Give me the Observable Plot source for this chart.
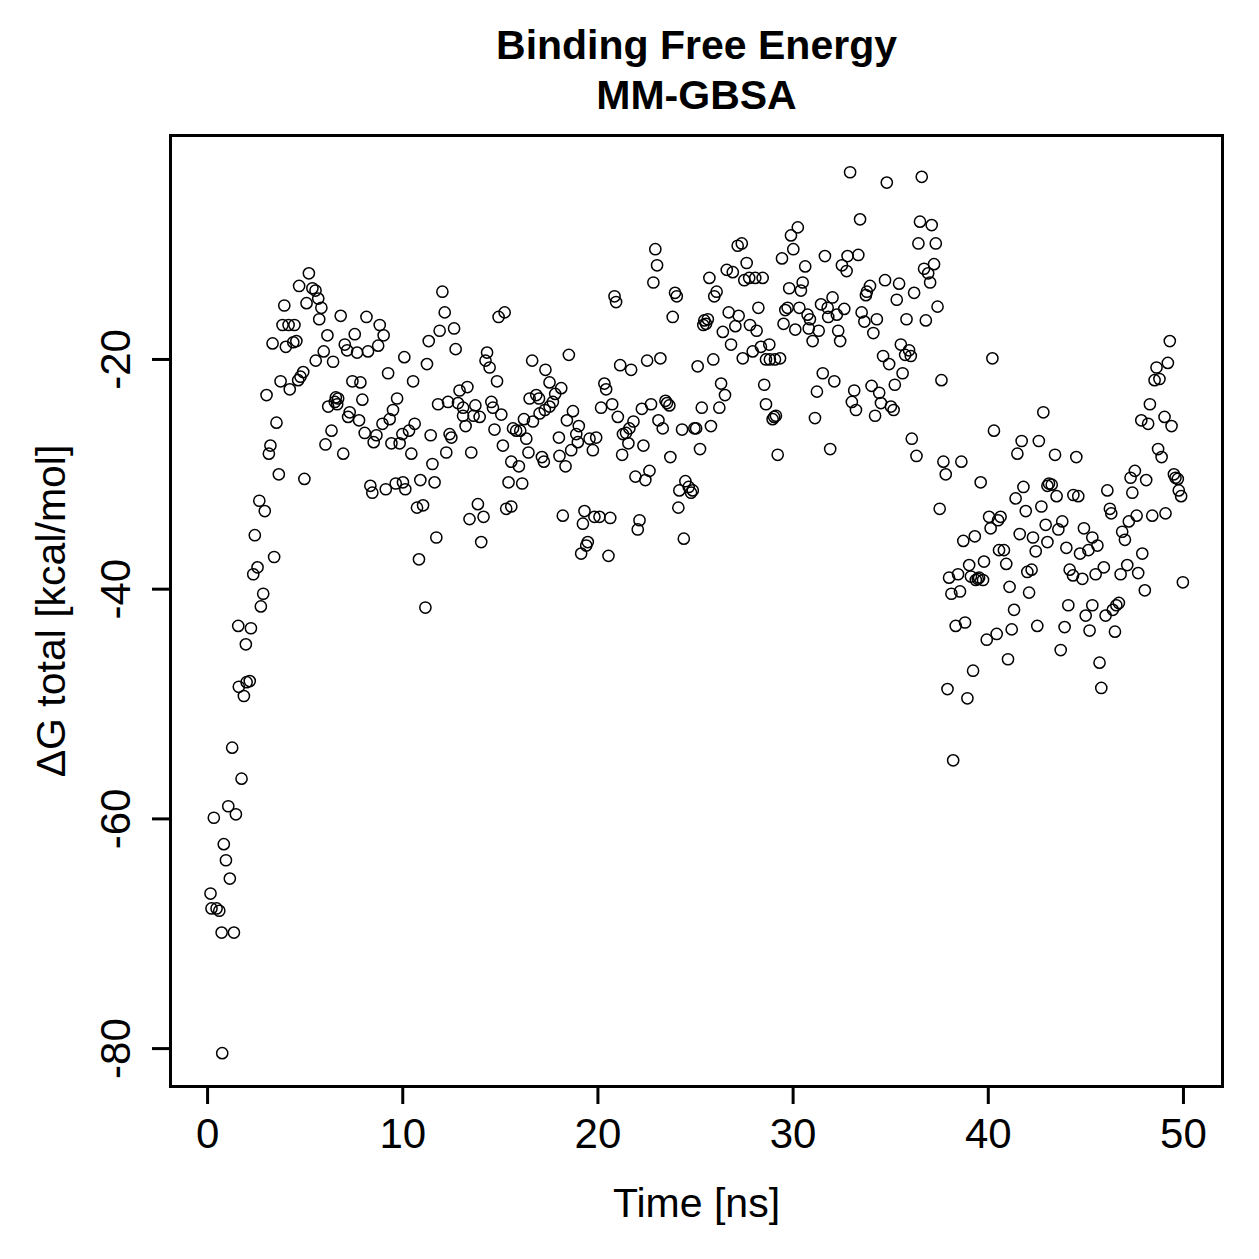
<!DOCTYPE html>
<html><head><meta charset="utf-8">
<script src="https://cdn.jsdelivr.net/npm/d3@7"></script>
<script src="https://cdn.jsdelivr.net/npm/@observablehq/plot@0.6"></script>
<style>body{margin:0;background:#fff;}</style>
</head><body><div id="chart"></div>
<script>
const time = [
0.15,0.20,0.32,0.46,0.60,0.72,0.75,0.83,0.94,1.06,1.14,1.26,1.35,1.45,1.57,1.60,1.74,1.86,1.96,2.00,2.16,2.22,2.34,2.42,2.56,2.65,2.73,2.85,2.93,3.02,3.14,3.22,3.33,3.41,3.53,3.65,3.74,3.84,3.93,4.01,4.15,4.21,4.39,4.45,4.55,4.64,4.69,4.76,4.90,4.96,
5.07,5.19,5.37,5.53,5.54,5.67,5.72,5.83,5.95,6.04,6.14,6.18,6.35,6.43,6.52,6.57,6.64,6.69,6.82,6.95,7.03,7.15,7.20,7.28,7.42,7.54,7.66,7.76,7.83,7.93,8.05,8.14,8.22,8.34,8.44,8.51,8.65,8.74,8.82,8.96,9.02,9.13,9.25,9.33,9.42,9.50,9.64,9.71,9.84,9.98,10.01,10.08,10.13,
10.32,10.44,10.53,10.61,10.73,10.83,10.90,11.04,11.16,11.24,11.33,11.43,11.52,11.63,11.72,11.81,11.89,12.03,12.15,12.23,12.32,12.40,12.49,12.63,12.71,12.83,12.91,13.09,13.09,13.22,13.31,13.42,13.51,13.63,13.72,13.85,13.94,14.02,14.14,14.24,14.32,14.45,14.54,14.62,14.70,14.83,14.91,15.05,15.13,15.22,15.30,15.42,15.56,15.56,15.65,15.81,15.95,16.02,16.12,16.21,16.33,16.44,16.50,16.63,16.67,16.84,16.98,17.01,17.13,17.23,17.28,17.31,17.52,17.52,17.69,17.81,18.00,18.03,18.12,18.20,18.34,18.41,18.51,18.63,18.72,18.89,18.97,19.02,19.14,19.23,19.31,19.40,19.48,19.57,19.74,19.82,19.91,20.08,20.16,
20.33,20.42,20.54,20.63,20.73,20.85,20.93,21.02,21.14,21.24,21.28,21.44,21.56,21.61,21.70,21.82,21.92,22.04,22.13,22.25,22.33,22.43,22.52,22.64,22.72,22.84,22.94,23.03,23.10,23.20,23.32,23.46,23.54,23.66,23.71,23.83,23.95,24.04,24.12,24.17,24.31,24.40,24.48,24.65,24.77,24.86,24.94,25.03,25.11,25.23,25.32,25.40,25.45,25.54,25.63,25.71,25.79,25.91,25.96,26.08,26.22,26.31,26.40,26.51,26.60,26.70,26.82,26.91,27.04,27.16,27.21,27.37,27.42,27.50,27.62,27.75,27.79,27.93,28.06,28.13,28.22,28.35,28.44,28.52,28.61,28.61,28.78,28.81,28.95,29.03,29.07,29.12,29.21,29.33,29.43,29.51,29.60,29.72,29.80,29.89,30.01,30.11,30.24,
30.32,30.40,30.49,30.62,30.74,30.80,30.86,31.00,31.12,31.22,31.31,31.43,31.52,31.63,31.77,31.80,31.90,32.02,32.11,32.24,32.31,32.41,32.50,32.62,32.74,32.79,32.92,33.01,33.13,33.22,33.34,33.43,33.51,33.65,33.73,33.78,33.94,34.02,34.11,34.20,34.29,34.41,34.50,34.61,34.71,34.80,34.92,35.01,35.15,35.21,35.31,35.43,35.52,35.61,35.74,35.81,35.94,36.03,36.08,36.20,36.32,36.42,36.50,36.59,36.71,36.80,36.92,37.02,37.10,37.22,37.31,37.40,37.51,37.60,37.70,37.82,37.91,37.99,38.11,38.20,38.33,38.45,38.55,38.62,38.72,38.81,38.93,39.02,39.11,39.22,39.31,39.36,39.46,39.53,39.61,39.73,39.78,39.92,40.04,40.12,40.21,40.29,40.43,40.50,
40.55,40.63,40.80,40.92,41.01,41.09,41.20,41.32,41.40,41.49,41.61,41.71,41.80,41.92,42.00,42.09,42.22,42.29,42.43,42.51,42.59,42.72,42.82,42.94,43.03,43.03,43.11,43.25,43.42,43.50,43.59,43.71,43.79,43.91,44.00,44.10,44.17,44.34,44.36,44.51,44.61,44.70,44.82,44.90,44.99,45.13,45.19,45.33,45.33,45.50,45.59,45.70,45.79,45.92,46.01,46.10,46.23,46.30,46.38,46.49,46.56,46.69,46.78,46.86,47.00,47.12,47.20,47.29,47.38,47.51,47.60,47.68,47.84,47.89,48.02,48.09,48.19,48.28,48.40,48.52,48.62,48.70,48.77,48.88,49.03,49.08,49.20,49.30,49.39,49.51,49.59,49.71,49.76,49.88,49.97
];
const dG = [
-66.5,-67.8,-59.9,-67.8,-68.0,-69.9,-80.4,-62.2,-63.6,-58.9,-65.2,-53.8,-69.9,-59.6,-43.2,-48.5,-56.5,-49.3,-44.8,-48.1,-48.0,-43.4,-38.7,-35.3,-38.1,-32.3,-41.5,-40.4,-33.2,-23.1,-28.2,-27.5,-18.6,-37.2,-25.5,-30.0,-21.9,-17.0,-15.3,-18.9,-17.0,-22.6,-18.5,-17.0,-18.4,-21.8,-13.6,-21.5,-21.1,-30.4,
-15.1,-12.5,-13.8,-14.0,-20.1,-14.7,-16.5,-15.5,-19.3,-27.4,-17.9,-24.1,-26.2,-20.2,-23.7,-23.3,-23.9,-23.4,-16.2,-28.2,-18.7,-19.2,-25.0,-24.6,-21.9,-17.8,-19.4,-25.3,-22.0,-23.5,-26.4,-16.3,-19.3,-31.0,-31.6,-27.2,-26.6,-18.8,-17.0,-25.6,-17.9,-31.3,-21.2,-25.2,-27.3,-24.4,-30.8,-23.4,-27.3,-26.5,-30.7,-19.8,-31.3,
-26.2,-28.2,-21.9,-25.6,-32.9,-37.4,-30.5,-32.7,-41.6,-20.4,-18.4,-26.6,-29.1,-30.7,-35.5,-23.9,-17.5,-14.1,-15.9,-28.1,-23.7,-26.5,-26.8,-17.3,-19.1,-23.8,-22.7,-24.2,-24.9,-25.8,-22.4,-33.9,-28.1,-24.9,-24.0,-32.6,-25.0,-35.9,-33.7,-20.1,-19.4,-20.7,-23.7,-24.2,-26.1,-21.9,-16.3,-24.8,-27.5,-15.9,-33.0,-30.7,-32.8,-28.9,-26.0,-26.2,-29.3,-26.2,-30.8,-25.2,-26.9,-28.1,-23.4,-20.1,-25.4,-23.1,-23.4,-24.7,-28.5,-28.9,-24.4,-20.9,-22.0,-24.1,-23.7,-23.0,-26.8,-28.4,-22.5,-33.6,-29.3,-25.3,-19.6,-27.9,-24.5,-26.5,-27.2,-25.8,-36.9,-34.3,-33.2,-36.2,-35.9,-26.9,-27.9,-33.7,-26.8,-33.7,-24.2,
-22.1,-22.6,-37.1,-33.8,-23.9,-14.5,-15.0,-25.0,-20.5,-28.3,-26.5,-26.4,-27.3,-26.0,-20.9,-25.4,-30.2,-34.8,-34.0,-24.3,-27.5,-30.5,-20.1,-29.7,-23.9,-13.3,-10.4,-11.8,-25.3,-19.9,-26.0,-23.6,-23.8,-24.0,-28.5,-16.3,-14.2,-14.5,-32.9,-31.4,-26.1,-35.6,-30.6,-31.1,-31.6,-31.4,-26.0,-26.0,-20.6,-27.8,-24.2,-17.0,-16.6,-16.9,-16.5,-12.9,-25.8,-20.0,-14.5,-14.1,-24.2,-22.1,-17.6,-23.1,-12.2,-15.9,-18.7,-12.4,-17.1,-10.1,-16.2,-9.9,-19.9,-13.1,-11.6,-12.9,-17.0,-19.3,-12.9,-17.5,-15.5,-18.9,-12.9,-22.2,-20.0,-23.9,-18.7,-20.0,-25.2,-25.0,-20.0,-24.9,-28.3,-19.9,-11.2,-16.9,-15.7,-15.5,-13.8,-9.2,-10.4,-17.4,-8.5,
-15.5,-14.0,-13.3,-11.9,-16.1,-17.3,-16.5,-18.4,-25.1,-22.8,-17.5,-15.2,-21.2,-11.0,-15.5,-16.3,-27.8,-14.6,-21.9,-16.1,-17.5,-18.4,-11.8,-15.6,-12.3,-11.0,-3.7,-23.7,-22.7,-24.4,-10.9,-7.8,-15.9,-16.7,-14.4,-14.1,-13.6,-22.3,-17.7,-24.9,-16.5,-22.9,-23.8,-19.7,-13.1,-4.6,-20.4,-24.1,-24.4,-22.2,-14.8,-13.4,-18.7,-21.2,-19.6,-16.5,-19.2,-19.7,-26.9,-14.2,-28.4,-9.9,-8.0,-4.1,-12.1,-16.6,-12.5,-13.3,-8.3,-11.7,-9.9,-15.4,-33.0,-21.8,-28.9,-30.0,-48.7,-39.0,-40.4,-54.9,-43.2,-38.7,-40.2,-28.9,-35.8,-42.9,-49.5,-37.9,-38.9,-47.1,-35.4,-39.2,-39.1,-39.0,-30.7,-39.2,-37.6,-44.4,-33.7,-34.7,-19.9,-26.2,-43.9,-34.0,
-36.6,-33.7,-36.6,-37.8,-46.1,-39.8,-43.5,-41.8,-32.1,-28.2,-35.2,-27.1,-31.1,-33.2,-38.5,-40.3,-38.3,-35.5,-36.7,-43.2,-27.1,-32.8,-24.6,-34.4,-31.0,-35.9,-30.8,-30.9,-28.3,-31.9,-34.8,-45.3,-34.1,-43.3,-36.4,-41.4,-38.3,-38.8,-31.8,-28.5,-31.9,-36.9,-39.1,-34.7,-42.3,-36.6,-43.6,-35.5,-41.4,-38.7,-36.2,-46.4,-48.6,-38.1,-42.3,-31.4,-33.0,-33.4,-41.8,-43.7,-41.4,-41.2,-38.7,-35.0,-35.7,-37.9,-34.1,-30.3,-31.6,-29.7,-33.6,-38.6,-25.3,-36.9,-40.1,-30.5,-25.6,-23.9,-33.6,-21.8,-20.7,-27.8,-21.7,-28.5,-25.0,-33.4,-20.3,-18.4,-25.8,-30.0,-30.3,-30.4,-31.4,-31.9,-39.4
];
const xTicks = [0,10,20,30,40,50];
const yTicks = [-80,-60,-40,-20];
const yTickLabels = ["-80","-60","-40","-20"];
const titleLines = ["Binding Free Energy","MM-GBSA"];
const xLabel = "Time [ns]";
const yLabel = "ΔG total [kcal/mol]";

const n = Math.min(time.length, dG.length);
const data = d3.range(n).map(i => ({t: time[i], g: dG[i]}));
const font = "'Liberation Sans', Arial, Helvetica, sans-serif";

const plot = Plot.plot({
  width: 1259, height: 1259,
  marginLeft: 170, marginRight: 37, marginTop: 135, marginBottom: 173,
  style: {fontFamily: font, fontSize: "42px", color: "black", background: "white", overflow: "visible"},
  x: {domain: [-1.9, 52]},
  y: {domain: [-83.3, -0.5]},
  marks: [
    Plot.frame({stroke: "black", strokeWidth: 3}),
    Plot.axisX({ticks: xTicks, tickSize: 18, tickPadding: 14, tickFormat: d => String(d), fontSize: 42, strokeWidth: 3, label: null}),
    Plot.axisY({ticks: yTicks, tickSize: 18, tickFormat: () => "", strokeWidth: 3, label: null}),
    Plot.text(yTicks, {y: d => d, text: (d, i) => yTickLabels[i], frameAnchor: "left", rotate: -90, dx: -54, fontSize: 42, textAnchor: "middle", lineAnchor: "middle"}),
    Plot.text([yLabel], {frameAnchor: "left", rotate: -90, dx: -119, fontSize: 41, textAnchor: "middle", lineAnchor: "middle"}),
    Plot.text([xLabel], {frameAnchor: "bottom", dy: 117, fontSize: 41, textAnchor: "middle", lineAnchor: "middle"}),
    Plot.text([titleLines[0]], {frameAnchor: "top", dy: -90, fontSize: 41, fontWeight: "bold", textAnchor: "middle", lineAnchor: "middle"}),
    Plot.text([titleLines[1]], {frameAnchor: "top", dy: -40, fontSize: 41, fontWeight: "bold", textAnchor: "middle", lineAnchor: "middle"}),
    Plot.dot(data, {x: "t", y: "g", r: 5.6, stroke: "black", strokeWidth: 1.5, fill: "none"})
  ]
});
document.getElementById("chart").appendChild(plot);
</script>
</body></html>
